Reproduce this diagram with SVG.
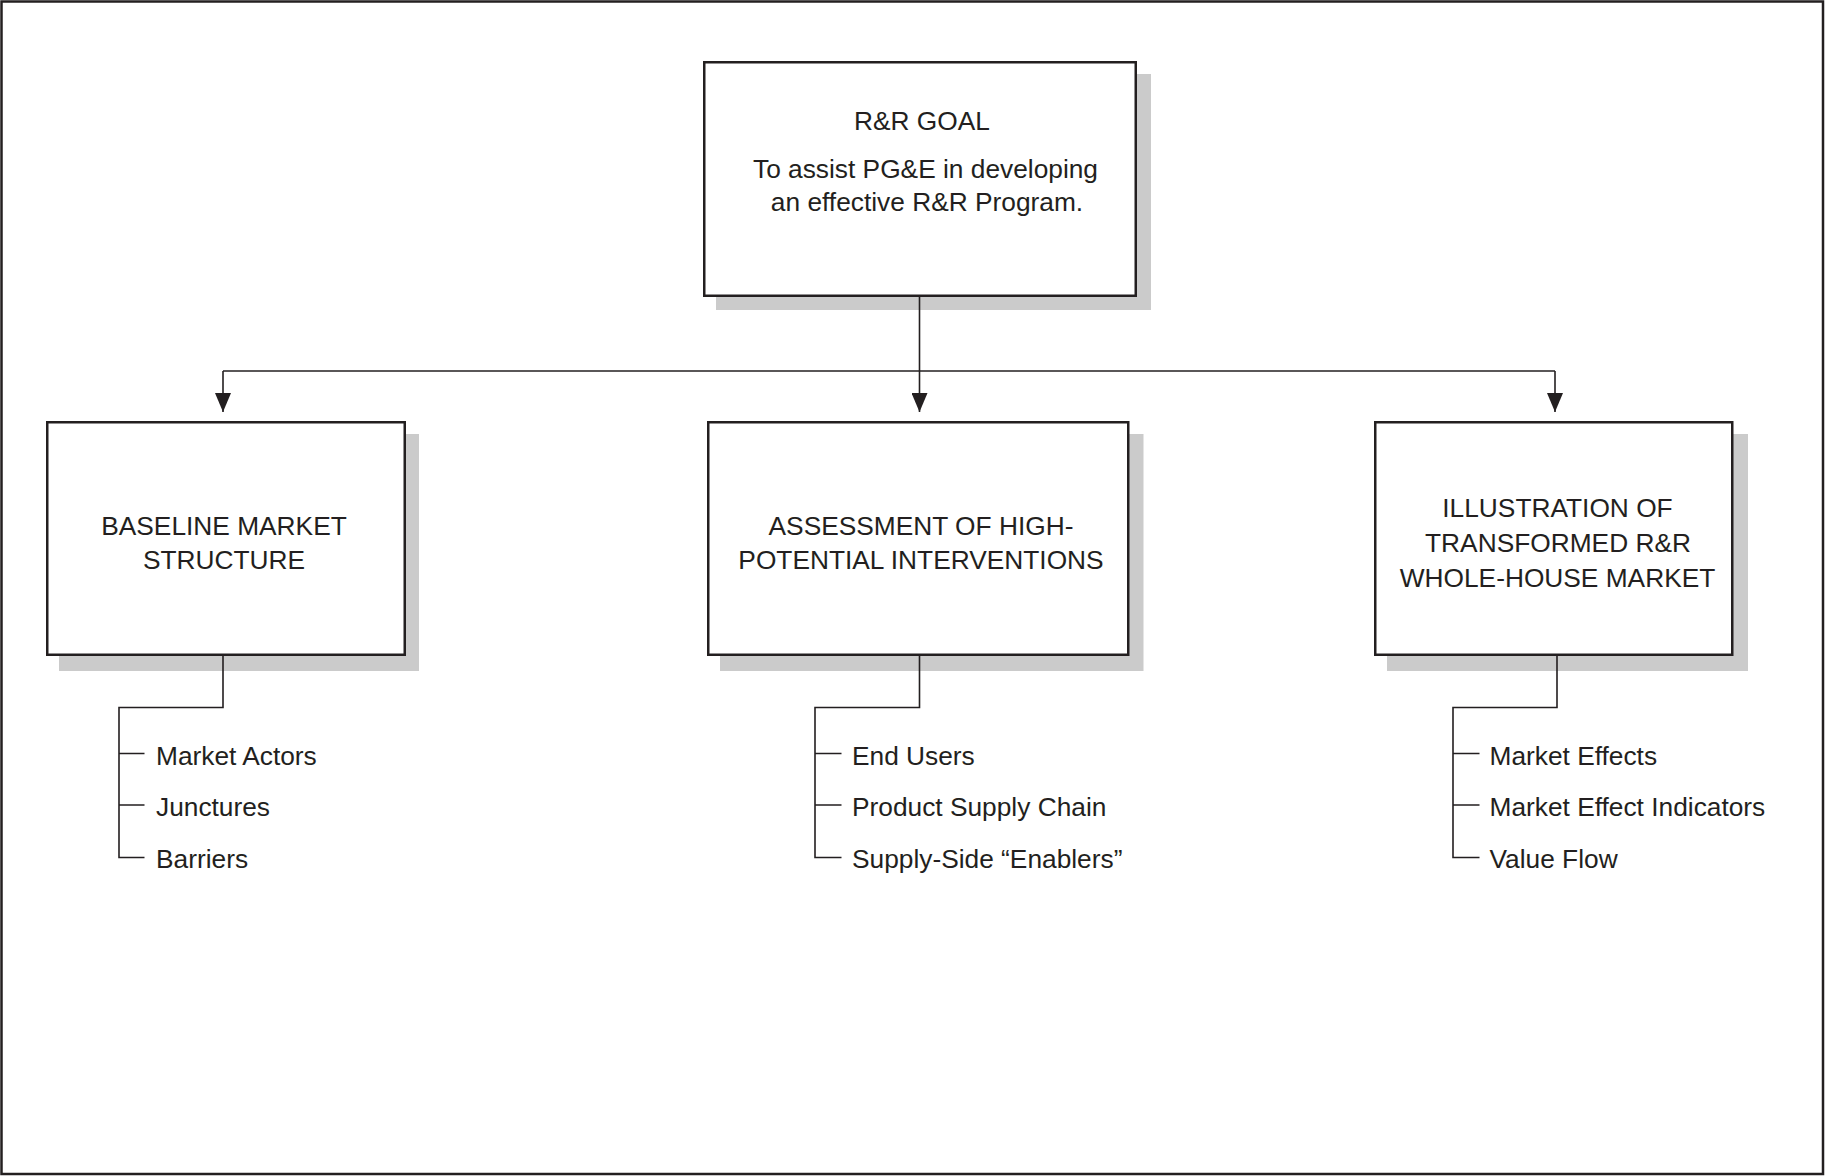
<svg xmlns="http://www.w3.org/2000/svg" width="1825" height="1176" viewBox="0 0 1825 1176">
  <style>
    .frame { fill: #ffffff; stroke: #231f20; stroke-width: 2.5; }
    .shadow { fill: #cbcbcb; stroke: none; }
    .box { fill: #ffffff; stroke: #231f20; stroke-width: 2.5; }
    .t { font-family: "Liberation Sans", Arial, sans-serif; font-size: 26.3px; fill: #231f20; }
    .c { text-anchor: middle; }
    .wire { fill: none; stroke: #231f20; stroke-width: 1.6; }
  </style>
  <defs>
    <marker id="arrow" markerUnits="userSpaceOnUse" markerWidth="19" markerHeight="16" refX="19" refY="8" orient="auto" viewBox="0 0 19 16">
      <path d="M0,0 L19,8 L0,16 Z" fill="#231f20"/>
    </marker>
  </defs>

  <!-- page frame -->
  <rect class="frame" x="1.5" y="1.5" width="1821.5" height="1172.5"/>

  <!-- goal -->
  <g id="goal">
    <rect class="shadow" x="716" y="74" width="435" height="236"/>
    <rect class="box" x="704.25" y="62.25" width="431.5" height="233.5"/>
    <text class="t c" x="922" y="129.5">R&amp;R GOAL</text>
    <text class="t c" x="925.5" y="178">To assist PG&amp;E in developing</text>
    <text class="t c" x="927" y="210.5">an effective R&amp;R Program.</text>
  </g>

  <!-- baseline market structure -->
  <g id="baseline">
    <rect class="shadow" x="59" y="434" width="360" height="237"/>
    <rect class="box" x="47.25" y="422.25" width="357.5" height="232.5"/>
    <text class="t c" x="224" y="535">BASELINE MARKET</text>
    <text class="t c" x="224" y="569">STRUCTURE</text>
  </g>
  <g id="baseline-items">
    <text class="t" x="156" y="764.5">Market Actors</text>
    <text class="t" x="156" y="816">Junctures</text>
    <text class="t" x="156" y="867.5">Barriers</text>
  </g>

  <!-- assessment of interventions -->
  <g id="assessment">
    <rect class="shadow" x="720" y="434" width="423.5" height="237"/>
    <rect class="box" x="708.25" y="422.25" width="420" height="232.5"/>
    <text class="t c" x="921" y="534.5">ASSESSMENT OF HIGH-</text>
    <text class="t c" x="921" y="568.5">POTENTIAL INTERVENTIONS</text>
  </g>
  <g id="assessment-items">
    <text class="t" x="852" y="764.5">End Users</text>
    <text class="t" x="852" y="816">Product Supply Chain</text>
    <text class="t" x="852" y="867.5">Supply-Side “Enablers”</text>
  </g>

  <!-- illustration of transformed market -->
  <g id="illustration">
    <rect class="shadow" x="1387" y="434" width="361" height="237"/>
    <rect class="box" x="1375.25" y="422.25" width="357" height="232.5"/>
    <text class="t c" x="1557.5" y="517">ILLUSTRATION OF</text>
    <text class="t c" x="1558" y="552">TRANSFORMED R&amp;R</text>
    <text class="t c" x="1557.5" y="586.5">WHOLE-HOUSE MARKET</text>
  </g>
  <g id="illustration-items">
    <text class="t" x="1489.5" y="764.5">Market Effects</text>
    <text class="t" x="1489.5" y="816">Market Effect Indicators</text>
    <text class="t" x="1489.5" y="867.5">Value Flow</text>
  </g>

  <!-- connectors, drawn over the drop shadows -->
  <g id="connectors">
    <path class="wire" d="M223 371 H1555"/>
    <path class="wire" d="M919.5 296 V412" marker-end="url(#arrow)"/>
    <path class="wire" d="M223 371 V412" marker-end="url(#arrow)"/>
    <path class="wire" d="M1555 371 V412" marker-end="url(#arrow)"/>

    <!-- baseline sub-items -->
    <path class="wire" d="M223 655.5 V707.5 H119 V857.5 H144.5 M119 753.5 H144.5 M119 805 H144.5"/>
    <!-- assessment sub-items -->
    <path class="wire" d="M919.5 655.5 V707.5 H815 V857.5 H841.5 M815 753.5 H841.5 M815 805 H841.5"/>
    <!-- illustration sub-items -->
    <path class="wire" d="M1557 655.5 V707.5 H1453 V857.5 H1479.5 M1453 753.5 H1479.5 M1453 805 H1479.5"/>
  </g>
</svg>
